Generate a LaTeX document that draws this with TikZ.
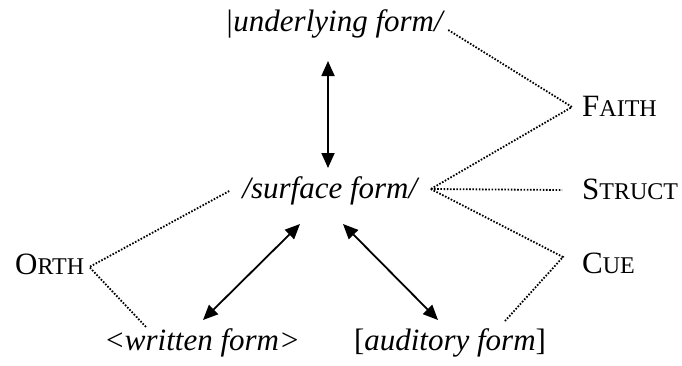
\documentclass[tikz,border=0pt]{standalone}
\usepackage{fontspec}
\setmainfont{Liberation Serif}
\usetikzlibrary{arrows.meta,calc}
\newcommand\mysc[1]{{\fontsize{24}{28}\selectfont #1}}
\begin{document}
\begin{tikzpicture}[x=1pt,y=-1pt,
 lab/.style={inner sep=0pt, font=\fontsize{31}{36}\selectfont},
 arr/.style={{Triangle[length=15pt,width=13pt]}-{Triangle[length=15pt,width=13pt]}, line width=1.8pt},
 dots/.style={line width=1.8pt, dash pattern=on 1.6pt off 1.6pt}]
\useasboundingbox (0,0) rectangle (682,365);
\node[lab,anchor=base] (uf) at (335,31) {\textit{|underlying form/}};
\node[lab,anchor=base] (sf) at (331,198) {\textit{/surface form/}};
\node[lab,anchor=base] (wf) at (202,350) {\textit{<written form>}};
\node[lab,anchor=base] (af) at (450,350) {[\textit{auditory form}]};
\node[lab,anchor=base west] (faith) at (582,116) {F\mysc{AITH}};
\node[lab,anchor=base west] (struct) at (582,199) {S\mysc{TRUCT}};
\node[lab,anchor=base west] (cue) at (582,273) {C\mysc{UE}};
\node[lab,anchor=base west] (orth) at (15,274) {O\mysc{RTH}};
% arrows
\draw[arr] ($(uf.base)+(-7,30)$) -- ($(sf.base)+(-3,-30)$);
\draw[arr] ($(sf.base)+(-31,26)$) -- ($(wf.base)+(1,-30)$);
\draw[arr] ($(sf.base)+(12,26)$) -- ($(af.base)+(-12,-30)$);
% dotted
\draw[dots] ($(uf.base east)+(3,-1)$) -- ($(faith.base west)+(-10,-9)$) -- ($(sf.base east)+(11,-9)$);
\draw[dots] ($(sf.base east)+(11,-9)$) -- ($(struct.base west)+(-20,-9)$);
\draw[dots] ($(sf.base east)+(11,-9)$) -- ($(cue.base west)+(-19,-16)$) -- ($(cue.base west)+(-77,48)$);
\draw[dots] ($(sf.base west)+(-13,-7)$) -- ($(orth.base east)+(5,-7)$) -- ($(orth.base west)+(132,54)$);
\end{tikzpicture}
\end{document}
